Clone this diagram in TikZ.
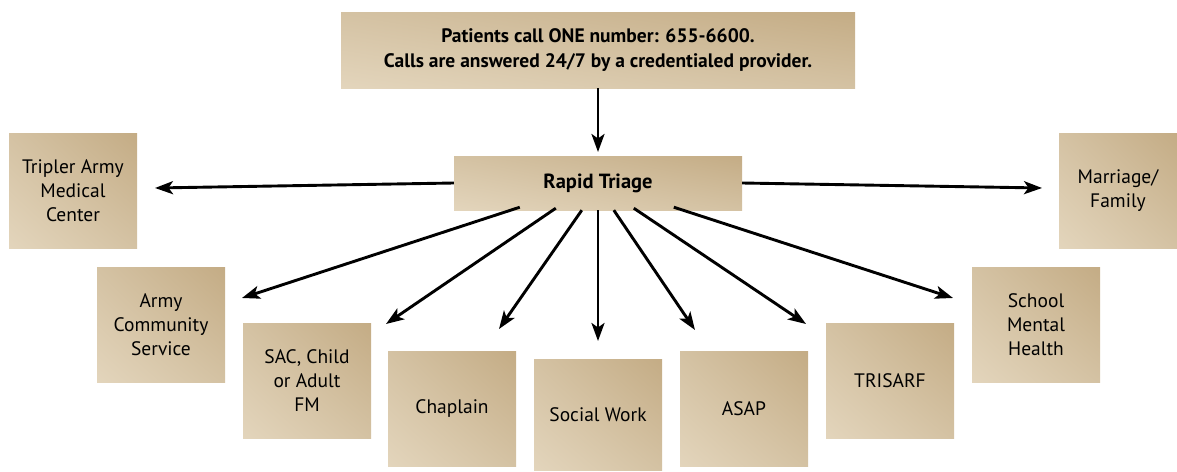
\documentclass[tikz,border=0pt]{standalone}
\usepackage{fontspec}
\setmainfont{PT Sans}
\usetikzlibrary{arrows.meta,calc,shadings}
\definecolor{tanL}{HTML}{E3D5BC}
\definecolor{tanM}{HTML}{D4C2A3}
\definecolor{tanD}{HTML}{C4AC85}
\tikzset{
  tanbox/.style={rectangle, inner sep=0pt, align=center, shade, shading=bilinear interpolation,
    lower left=tanL, upper right=tanD, upper left=tanM, lower right=tanM,
    font=\fontsize{19.5}{24}\selectfont},
  sq/.style={tanbox, minimum width=128pt, minimum height=115pt},
  arr/.style={line width=2.9pt, -{Stealth[length=18pt,width=13pt,inset=4.5pt]}}
}
\begin{document}
\begin{tikzpicture}[x=1pt,y=-1pt]
\useasboundingbox (0,0) rectangle (1177,471);
\node[tanbox, minimum width=514pt, minimum height=76pt, font=\bfseries\fontsize{19.5}{25}\selectfont] (top) at (598,50)
  {Patients call ONE number: 655-6600.\\Calls are answered 24/7 by a credentialed provider.};
\node[tanbox, minimum width=288pt, minimum height=54pt, font=\bfseries\fontsize{20.5}{24}\selectfont] (rt) at (598,183) {Rapid Triage};
\node[sq] (tam) at (73,190.5) {Tripler Army\\Medical\\Center};
\node[sq] (acs) at (161,325) {Army\\Community\\Service};
\node[sq] (sac) at (307,381) {SAC, Child\\or Adult\\FM};
\node[sq] (chap) at (452,408.5) {Chaplain};
\node[sq, minimum height=111pt] (sw) at (598,414.5) {Social Work};
\node[sq] (asap) at (744,409) {ASAP};
\node[sq] (tri) at (890,381) {TRISARF};
\node[sq] (smh) at (1036,324.5) {School\\Mental\\Health};
\node[sq, minimum width=118pt] (mf) at (1118,190.5) {Marriage/\\Family};
% arrow end points
\coordinate (e0) at (598,152);
\coordinate (eL) at (155,188);
\coordinate (eR) at (1042,188);
\coordinate (e1) at (242,298);
\coordinate (e2) at (386,324);
\coordinate (e3) at (499,329);
\coordinate (e4) at (598,341);
\coordinate (e5) at (695,330);
\coordinate (e6) at (806,324);
\coordinate (e7) at (953,298);
\draw[arr] (top.south) -- (e0);
\draw[arr] (rt.west) -- (eL);
\draw[arr] (rt.east) -- (eR);
\draw[arr] ($(rt.south west)+(66,-3)$) -- (e1);
\draw[arr] ($(rt.south west)+(102,-2)$) -- (e2);
\draw[arr] ($(rt.south west)+(128,0)$) -- (e3);
\draw[arr] (rt.south) -- (e4);
\draw[arr] ($(rt.south west)+(160,0)$) -- (e5);
\draw[arr] ($(rt.south west)+(180,-2)$) -- (e6);
\draw[arr] ($(rt.south west)+(220,-3)$) -- (e7);
\end{tikzpicture}
\end{document}
